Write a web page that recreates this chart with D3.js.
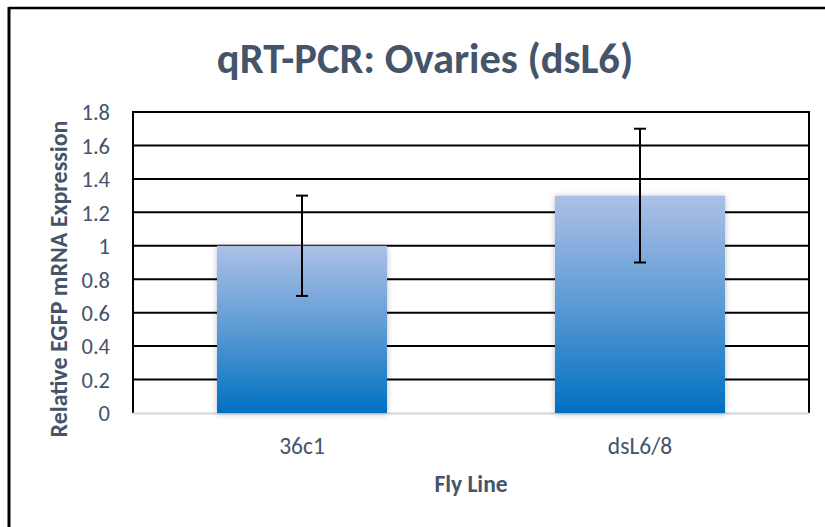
<!DOCTYPE html>
<html><head><meta charset="utf-8">
<script src="https://cdn.jsdelivr.net/npm/d3@7/dist/d3.min.js"></script>
<style>
html,body{margin:0;padding:0;background:#fff;}
svg{display:block;font-family:Carlito,Lato,"Open Sans",sans-serif;}
</style></head>
<body><svg id="c" width="825" height="527"></svg>
<script>
const categories = ["36c1", "dsL6/8"];
const values = [1.0, 1.3];
const errors = [0.3, 0.4];
const yTicks = [0, 0.2, 0.4, 0.6, 0.8, 1, 1.2, 1.4, 1.6, 1.8];
const titleText = "qRT-PCR: Ovaries (dsL6)";
const xTitle = "Fly Line";
const yTitle = "Relative EGFP mRNA Expression";

const svg = d3.select("#c");
const textColor = "#44546a";
const fam = "Carlito,Lato,sans-serif";
const m = {left:133, right:809, top:112, bottom:413};

// outer frame (top and left edges visible)
svg.append("line").attr("x1",9).attr("x2",825).attr("y1",8).attr("y2",8).attr("stroke","#000").attr("stroke-width",2.5);
svg.append("line").attr("x1",9).attr("x2",9).attr("y1",7).attr("y2",527).attr("stroke","#000").attr("stroke-width",3);

const x = d3.scaleBand().domain(categories).range([m.left, m.right]).paddingInner(0.497).paddingOuter(0.2485);
const y = d3.scaleLinear().domain([0, 1.8]).range([m.bottom, m.top]);

const defs = svg.append("defs");
const grad = defs.append("linearGradient").attr("id","bg").attr("x1",0).attr("x2",0).attr("y1",0).attr("y2",1);
grad.append("stop").attr("offset","0%").attr("stop-color","#adc0e6");
grad.append("stop").attr("offset","50%").attr("stop-color","#5c9ad4");
grad.append("stop").attr("offset","100%").attr("stop-color","#0070c1");
const f = defs.append("filter").attr("id","sh").attr("x","-10%").attr("y","-10%").attr("width","120%").attr("height","120%");
f.append("feDropShadow").attr("dx",0).attr("dy",1).attr("stdDeviation",3).attr("flood-color","#000").attr("flood-opacity",0.25);

// gridlines
svg.append("g").selectAll("line").data(yTicks.filter(d=>d>0)).join("line")
  .attr("x1",m.left).attr("x2",m.right).attr("y1",d=>y(d)).attr("y2",d=>y(d))
  .attr("stroke","#000").attr("stroke-width",2);
// plot frame left/right
svg.append("line").attr("x1",m.left).attr("x2",m.left).attr("y1",m.top-1).attr("y2",m.bottom).attr("stroke","#000").attr("stroke-width",2);
svg.append("line").attr("x1",m.right).attr("x2",m.right).attr("y1",m.top-1).attr("y2",m.bottom).attr("stroke","#000").attr("stroke-width",2);
// zero axis
svg.append("line").attr("x1",m.left).attr("x2",m.right).attr("y1",y(0)+0.5).attr("y2",y(0)+0.5).attr("stroke","#d0d5dd").attr("stroke-width",2);

// bars
svg.append("g").selectAll("rect").data(categories).join("rect")
  .attr("x",d=>x(d)).attr("width",x.bandwidth())
  .attr("y",(d,i)=>y(values[i])).attr("height",(d,i)=>y(0)-y(values[i]))
  .attr("fill","url(#bg)").attr("filter","url(#sh)");

// error bars
const eg = svg.append("g").attr("stroke","#000").attr("stroke-width",2);
categories.forEach((c,i)=>{
  const cx = x(c)+x.bandwidth()/2;
  const hi = y(values[i]+errors[i]), lo = y(values[i]-errors[i]);
  eg.append("line").attr("x1",cx).attr("x2",cx).attr("y1",hi).attr("y2",lo);
  eg.append("line").attr("x1",cx-6).attr("x2",cx+6).attr("y1",hi).attr("y2",hi);
  eg.append("line").attr("x1",cx-6).attr("x2",cx+6).attr("y1",lo).attr("y2",lo);
});

// y axis labels
const yAxis = d3.axisLeft(y).tickValues(yTicks).tickSize(0).tickPadding(0).tickFormat(d=>String(d));
const ya = svg.append("g").attr("transform",`translate(110,0)`).call(yAxis)
  .attr("font-size",22.5).attr("font-family",fam);
ya.select(".domain").remove();
ya.selectAll("text").attr("fill",textColor).attr("dy","0.35em");

// x axis labels
const xAxis = d3.axisBottom(x).tickSize(0).tickPadding(0);
const xa = svg.append("g").attr("transform",`translate(0,454)`).call(xAxis)
  .attr("font-size",23.5).attr("font-family",fam);
xa.select(".domain").remove();
xa.selectAll("text").attr("fill",textColor).attr("dy",0).attr("y",0);

// titles
svg.append("text").attr("x",425).attr("y",73).attr("text-anchor","middle")
  .attr("font-size",42.5).attr("font-weight","bold").attr("fill",textColor).text(titleText);
svg.append("text").attr("x",(m.left+m.right)/2).attr("y",492).attr("text-anchor","middle")
  .attr("font-size",23.5).attr("font-weight","bold").attr("fill",textColor).text(xTitle);
svg.append("text").attr("transform","translate(67,279) rotate(-90)").attr("text-anchor","middle")
  .attr("font-size",24).attr("font-weight","bold").attr("fill",textColor).text(yTitle);
</script></body></html>
